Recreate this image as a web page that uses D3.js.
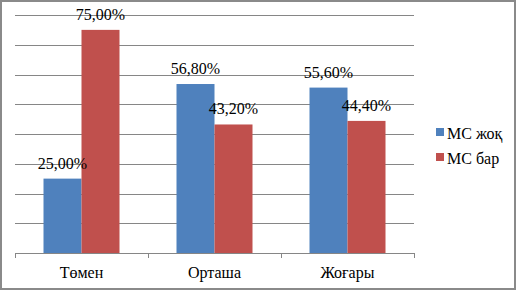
<!DOCTYPE html>
<html>
<head>
<meta charset="UTF-8">
<script src="https://d3js.org/d3.v7.min.js"></script>
<style>
    body { margin: 0; background: #fff; }
</style>
</head>
<body>
<script>
// data
var categories = ["Төмен", "Орташа", "Жоғары"];
var seriesNames = ["МС жоқ", "МС бар"];
var mcZhok = [25.0, 56.8, 55.6];
var mcBar = [75.0, 43.2, 44.4];
var colors = ["#4F81BD", "#C0504D"];
var gridTicks = [0, 10, 20, 30, 40, 50, 60, 70, 80];

var fontFam = "'Liberation Serif', 'Times New Roman', serif";
var width = 517, height = 292;
var svg = d3.select("body").append("svg")
    .attr("width", width)
    .attr("height", height);

// outer border
svg.append("rect")
    .attr("x", 1).attr("y", 1)
    .attr("width", 514).attr("height", 288)
    .attr("fill", "#fff")
    .attr("stroke", "#8a8a8a")
    .attr("stroke-width", 2);

var x = d3.scaleBand().domain(categories).range([15, 414]).padding(0);
var xs = d3.scaleBand().domain(seriesNames).range([0, x.bandwidth()])
    .paddingInner(0).paddingOuter(0.75);
var y = d3.scaleLinear().domain([0, 80]).range([253, 15]);

// grid lines
svg.selectAll(".grid")
    .data(gridTicks.slice(1))
    .enter().append("line")
    .attr("class", "grid")
    .attr("x1", 15).attr("x2", 414)
    .attr("y1", d => Math.round(y(d)) + 0.5)
    .attr("y2", d => Math.round(y(d)) + 0.5)
    .attr("stroke", "#868686")
    .attr("stroke-width", 1);

var rows = categories.map((c, i) => ({ cat: c, vals: [mcZhok[i], mcBar[i]] }));

var groups = svg.selectAll(".grp")
    .data(rows)
    .enter().append("g")
    .attr("transform", d => "translate(" + x(d.cat) + ",0)");

groups.selectAll("rect")
    .data(d => d.vals.map((v, j) => ({ name: seriesNames[j], v: v, j: j })))
    .enter().append("rect")
    .attr("x", d => xs(d.name))
    .attr("width", xs.bandwidth())
    .attr("y", d => y(d.v))
    .attr("height", d => y(0) - y(d.v))
    .attr("fill", d => colors[d.j]);

groups.selectAll(".lbl")
    .data(d => d.vals.map((v, j) => ({ name: seriesNames[j], v: v })))
    .enter().append("text")
    .attr("class", "lbl")
    .attr("x", d => xs(d.name) + xs.bandwidth() / 2)
    .attr("y", d => y(d.v) - 10)
    .attr("text-anchor", "middle")
    .style("font-family", fontFam)
    .style("font-size", "16px")
    .style("fill", "#000")
    .text(d => d.v.toFixed(2).replace(".", ",") + "%");

// x axis
var xAxis = svg.append("g")
    .attr("transform", "translate(0,253)")
    .call(d3.axisBottom(x).tickSize(0).tickPadding(14));
xAxis.select(".domain").attr("stroke", "#868686").attr("d", "M15,0.5H414");
xAxis.selectAll("text")
    .style("font-family", fontFam)
    .style("font-size", "16px")
    .style("fill", "#000");

// boundary ticks
var bounds = categories.map(c => x(c)).concat([x(categories[categories.length - 1]) + x.bandwidth()]);
svg.selectAll(".btick")
    .data(bounds)
    .enter().append("line")
    .attr("x1", d => Math.round(d) + 0.5).attr("x2", d => Math.round(d) + 0.5)
    .attr("y1", 253).attr("y2", 258)
    .attr("stroke", "#868686");

// legend
var legend = svg.selectAll(".leg")
    .data(seriesNames)
    .enter().append("g")
    .attr("transform", (d, i) => "translate(436," + (128 + i * 25) + ")");
legend.append("rect")
    .attr("width", 8).attr("height", 8)
    .attr("fill", (d, i) => colors[i]);
legend.append("text")
    .attr("x", 11).attr("y", 11)
    .style("font-family", fontFam)
    .style("font-size", "16px")
    .style("fill", "#000")
    .text(d => d);
</script>
</body>
</html>
